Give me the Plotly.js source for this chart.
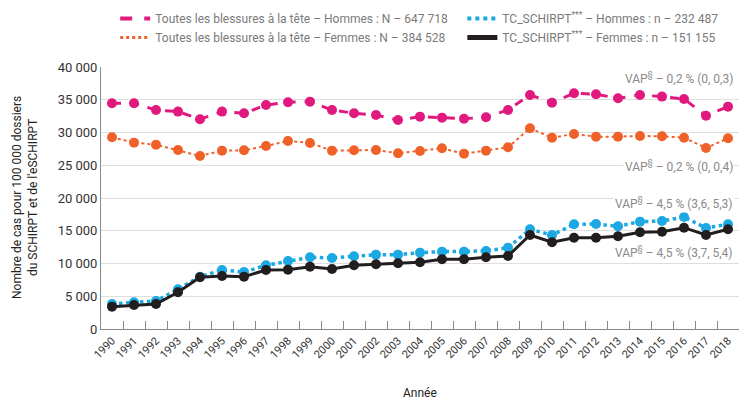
<!DOCTYPE html>
<html>
<head>
<meta charset="utf-8">
<script src="https://cdn.plot.ly/plotly-3.0.1.min.js"></script>
<style>html,body{margin:0;padding:0;background:#fff;}#chart{width:753px;height:403px;}</style>
</head>
<body>
<div id="chart"></div>
<script>
var years = ["1990","1991","1992","1993","1994","1995","1996","1997","1998","1999","2000","2001","2002","2003","2004","2005","2006","2007","2008","2009","2010","2011","2012","2013","2014","2015","2016","2017","2018"];

var toutesHommes = [34460,34460,33440,33190,32020,33190,32930,34200,34610,34710,33440,32930,32680,31910,32420,32270,32110,32320,33440,35730,34560,35990,35840,35220,35730,35480,35120,32570,33950];
var toutesFemmes = [29270,28450,28140,27330,26420,27230,27280,27940,28710,28400,27230,27280,27330,26830,27180,27590,26770,27230,27740,30650,29210,29780,29370,29370,29470,29420,29210,27640,29120];
var tcHommes = [3820,4070,4280,6060,7990,9010,8700,9720,10380,10950,10840,11100,11350,11350,11660,11810,11810,11910,12420,15220,14350,15980,16030,15680,16390,16490,17100,15420,15980];
var tcFemmes = [3410,3660,3820,5600,7890,8090,7990,9010,9060,9520,9160,9720,9880,10030,10180,10640,10640,10950,11150,14350,13240,13940,13940,14150,14760,14860,15470,14350,15220];

var names = [
  "Toutes les blessures à la tête – Hommes : N – 647 718",
  "Toutes les blessures à la tête – Femmes : N – 384 528",
  "TC_SCHIRPT<sup>***</sup> – Hommes : n – 232 487",
  "TC_SCHIRPT<sup>***</sup> – Femmes : n – 151 155"
];
var vapLabels = [
  "VAP<sup>§</sup> – 0,2 % (0, 0,3)",
  "VAP<sup>§</sup> – 0,2 % (0, 0,4)",
  "VAP<sup>§</sup> – 4,5 % (3,6, 5,3)",
  "VAP<sup>§</sup> – 4,5 % (3,7, 5,4)"
];
var vapY = [38300, 24900, 19300, 11700];
var yTitle = "Nombre de cas pour 100 000 dossiers<br>du SCHIRPT et de l'eSCHIRPT";
var xTitle = "Année";

var PINK = "#e1197f", ORANGE = "#f0612a", BLUE = "#1ba8e3", BLACK = "#221e1f";
var FONT = "Roboto, 'DejaVu Sans', sans-serif";

function series(y, color, dash, width) {
  return {x: years, y: y, type: "scatter", mode: "lines+markers", showlegend: false,
    line: {color: color, dash: dash, width: width},
    marker: {color: color, size: 10}};
}
function legendItem(name, color, dash, width, leg) {
  return {x: [years[0], years[0]], y: [-1000, -1000], type: "scatter", mode: "lines", name: name, legend: leg,
    line: {color: color, dash: dash, width: width}};
}

var data = [
  series(toutesHommes, PINK, "dash", 3),
  series(toutesFemmes, ORANGE, "dot", 2),
  series(tcHommes, BLUE, "dot", 3.5),
  series(tcFemmes, BLACK, "solid", 3),
  legendItem(names[0], PINK, "dash", 4, "legend"),
  legendItem(names[1], ORANGE, "dot", 3, "legend"),
  legendItem(names[2], BLUE, "dot", 4, "legend2"),
  legendItem(names[3], BLACK, "solid", 5, "legend2")
];

var annotations = vapLabels.map(function(t, i) {
  return {x: 1, xref: "paper", xanchor: "right", xshift: -4, y: vapY[i], yref: "y",
    text: t, showarrow: false, bgcolor: "#ffffff",
    font: {family: FONT, size: 12, color: "#8a8a8a"}};
});
annotations.push({x: 0, xref: "paper", xanchor: "center", xshift: -76, y: 0.5, yref: "paper",
  yanchor: "middle", textangle: -90, text: yTitle, showarrow: false,
  font: {family: FONT, size: 12, color: "#222"}});
annotations.push({x: 0.5, xref: "paper", xanchor: "center", y: 0, yref: "paper",
  yanchor: "middle", yshift: -64, text: xTitle, showarrow: false,
  font: {family: FONT, size: 12, color: "#222"}});

function legendCfg(x) {
  return {orientation: "v", xref: "container", yref: "container", x: x, xanchor: "left",
    yanchor: "top", y: 0.99, font: {family: FONT, size: 12, color: "#7a7a7a"},
    bgcolor: "rgba(0,0,0,0)", tracegroupgap: 0};
}

var layout = {
  width: 753, height: 403,
  margin: {l: 101, r: 14, t: 67, b: 74, autoexpand: false},
  paper_bgcolor: "#fff", plot_bgcolor: "#fff",
  separators: ", ",
  font: {family: FONT, size: 12, color: "#333"},
  xaxis: {
    type: "category", range: [-0.5, 28.5], tickangle: -45, automargin: false,
    tickson: "boundaries", ticks: "inside", ticklen: 8, tickcolor: "#888",
    showline: true, linecolor: "#888", linewidth: 1, showgrid: false,
    tickfont: {family: FONT, size: 11, color: "#333"}
  },
  yaxis: {
    range: [0, 40000], dtick: 5000, tickformat: ",d", automargin: false,
    showline: true, linecolor: "#888", linewidth: 1,
    gridcolor: "#dedede", gridwidth: 1, zeroline: false, ticks: "",
    tickfont: {family: FONT, size: 13, color: "#333"}
  },
  legend: legendCfg(0.153),
  legend2: legendCfg(0.614),
  annotations: annotations,
  showlegend: true
};

Plotly.newPlot("chart", data, layout, {displayModeBar: false, staticPlot: true});
</script>
</body>
</html>
